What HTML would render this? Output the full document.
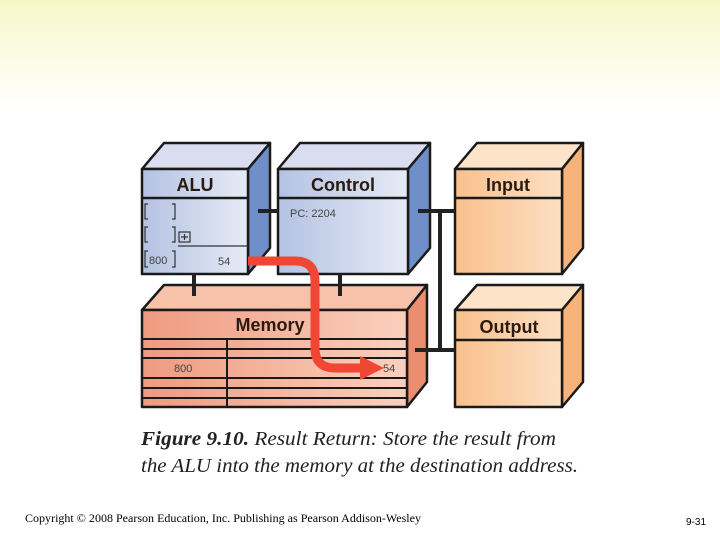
<!DOCTYPE html>
<html><head><style>
html,body{margin:0;padding:0;width:720px;height:540px;overflow:hidden;background:#fff}
</style></head><body>
<svg width="720" height="540" xmlns="http://www.w3.org/2000/svg" style="display:block">
<defs>
<linearGradient id="bg" x1="0" y1="0" x2="0" y2="1"><stop offset="0" stop-color="#f6f7c8"/><stop offset="1" stop-color="#ffffff"/></linearGradient>
<linearGradient id="bf" x1="0" y1="0" x2="1" y2="0"><stop offset="0" stop-color="#b4c2e2"/><stop offset="1" stop-color="#e6ebf6"/></linearGradient>
<linearGradient id="of" x1="0" y1="0" x2="1" y2="0"><stop offset="0" stop-color="#f9c08c"/><stop offset="1" stop-color="#fde0c4"/></linearGradient>
<linearGradient id="mf" x1="0" y1="0" x2="1" y2="0"><stop offset="0" stop-color="#ef9a80"/><stop offset="1" stop-color="#fbd0bd"/></linearGradient>
</defs>
<rect x="0" y="0" width="720" height="110" fill="url(#bg)"/>
<g stroke="#1a1a1a" stroke-width="2.5" stroke-linejoin="round">
<polygon points="142,169 164,143 270,143 248,169" fill="#d8def0"/>
<polygon points="248,169 270,143 270,248 248,274" fill="#6f8fc8"/>
<rect x="142" y="169" width="106" height="105" fill="url(#bf)"/>
<line x1="142" y1="198" x2="248" y2="198"/>
<polygon points="278,169 300,143 430,143 408,169" fill="#d8def0"/>
<polygon points="408,169 430,143 430,248 408,274" fill="#6f8fc8"/>
<rect x="278" y="169" width="130" height="105" fill="url(#bf)"/>
<line x1="278" y1="198" x2="408" y2="198"/>
<polygon points="455,169 477,143 583,143 562,169" fill="#fde3c8"/>
<polygon points="562,169 583,143 583,248 562,274" fill="#f8b478"/>
<rect x="455" y="169" width="107" height="105" fill="url(#of)"/>
<line x1="455" y1="198" x2="562" y2="198"/>
<polygon points="455,310 477,285 583,285 562,310" fill="#fde3c8"/>
<polygon points="562,310 583,285 583,382 562,407" fill="#f8b478"/>
<rect x="455" y="310" width="107" height="97" fill="url(#of)"/>
<line x1="455" y1="340" x2="562" y2="340"/>
<polygon points="142,310 164,285 427,285 407,310" fill="#f8c2aa"/>
<polygon points="407,310 427,285 427,382 407,407" fill="#ec8c70"/>
<rect x="142" y="310" width="265" height="97" fill="url(#mf)"/>
<g stroke-width="2">
<line x1="142" y1="339" x2="407" y2="339"/>
<line x1="142" y1="349" x2="407" y2="349"/>
<line x1="142" y1="358" x2="407" y2="358"/>
<line x1="142" y1="378" x2="407" y2="378"/>
<line x1="142" y1="388" x2="407" y2="388"/>
<line x1="142" y1="398" x2="407" y2="398"/>
<line x1="227" y1="339" x2="227" y2="407"/>
</g>
</g>
<g stroke="#222" stroke-width="4" fill="none">
<line x1="258" y1="211" x2="278" y2="211"/>
<line x1="418" y1="211" x2="455" y2="211"/>
<line x1="415" y1="350" x2="455" y2="350"/>
<line x1="440" y1="211" x2="440" y2="350"/>
<line x1="194" y1="274" x2="194" y2="296"/>
<line x1="340" y1="274" x2="340" y2="296"/>
</g>
<g stroke="#333" stroke-width="1.2" fill="none">
<path d="M148,204 h-3 v15 h3 M172,204 h3 v15 h-3"/>
<path d="M148,227 h-3 v15 h3 M172,227 h3 v15 h-3"/>
<rect x="179" y="232" width="11" height="10"/>
<path d="M184.5,234 v6 M181,237 h7"/>
<line x1="178" y1="246" x2="248" y2="246"/>
<path d="M148,251 h-3 v16 h3 M172,251 h3 v16 h-3"/>
</g>
<g font-family="Liberation Sans, sans-serif" fill="#444" font-size="11">
<text x="149" y="264">800</text>
<text x="218" y="265">54</text>
<text x="290" y="217">PC: 2204</text>
<text x="174" y="372">800</text>
<text x="383" y="372">54</text>
</g>
<g font-family="Liberation Sans, sans-serif" font-weight="bold" fill="#2a1a10" font-size="18" text-anchor="middle">
<text x="195" y="191">ALU</text>
<text x="343" y="191">Control</text>
<text x="508" y="191">Input</text>
<text x="509" y="333">Output</text>
<text x="270" y="331">Memory</text>
</g>
<path d="M248,261 H295 Q315,261 315,281 V348 Q315,368 335,368 H362" stroke="#ef4733" stroke-width="9" fill="none"/>
<polygon points="360,356 384,368 360,380" fill="#ef4733"/>
<g font-family="Liberation Serif, serif" font-style="italic" font-size="20" fill="#222">
<text x="141" y="445" textLength="415" lengthAdjust="spacingAndGlyphs"><tspan font-weight="bold">Figure 9.10.</tspan> Result Return: Store the result from</text>
<text x="141" y="472" textLength="437" lengthAdjust="spacingAndGlyphs">the ALU into the memory at the destination address.</text>
</g>
<text x="25" y="522" font-family="Liberation Serif, serif" font-size="12" fill="#000" textLength="396" lengthAdjust="spacingAndGlyphs">Copyright © 2008 Pearson Education, Inc. Publishing as Pearson Addison-Wesley</text>
<text x="686" y="525" font-family="Liberation Sans, sans-serif" font-size="10" fill="#000">9-31</text>
</svg>
</body></html>
